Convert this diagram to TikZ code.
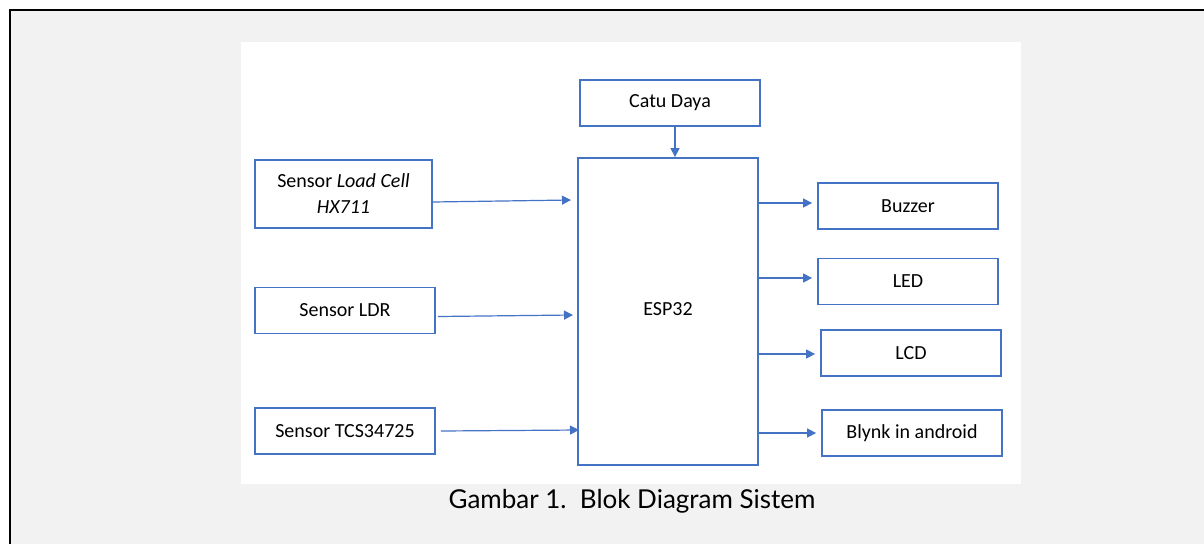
\documentclass[tikz,border=0pt]{standalone}
\usepackage{fontspec}
\setmainfont{Carlito}
\newfontfamily\capfont{Lato}
\usetikzlibrary{arrows.meta, positioning}
\definecolor{boxblue}{HTML}{4472C4}
\definecolor{pagegray}{HTML}{F2F2F2}

\begin{document}
\begin{tikzpicture}[x=1pt, y=-1pt, font=\fontsize{20}{26}\selectfont,
  block/.style={draw=boxblue, line width=1.8pt, fill=white, minimum width=180pt,
    minimum height=46pt, inner sep=0pt, align=center},
  arr/.style={draw=boxblue, line width=1.2pt, -{Triangle[length=9pt,width=9pt]}}]
  \useasboundingbox (0,0) rectangle (1204,544);
  % page background
  \fill[pagegray] (10,10) rectangle (1204,544);
  \fill[white] (241,42) rectangle (1021,484);
  \draw[line width=2.2pt] (10,544) -- (10,10) -- (1204,10);

  % blocks
  \node[block]                    (catu)     at (670,103)   {Catu Daya};
  \node[block, minimum height=307pt] (esp)   at (668,311.5) {\raisebox{5pt}{ESP32}};
  \node[block, minimum width=177pt, minimum height=68pt]
                                  (loadcell) at (343.5,194) {Sensor \textit{Load Cell}\\\textit{HX711}};
  \node[block]                    (ldr)      at (345,310.5) {Sensor LDR};
  \node[block]                    (tcs)      at (345,431)   {Sensor TCS34725};
  \node[block]                    (buzzer)   at (908,206)   {Buzzer};
  \node[block]                    (led)      at (908,281.5) {LED};
  \node[block]                    (lcd)      at (911,353)   {LCD};
  \node[block]                    (blynk)    at (912,433)   {Blynk in android};

  \node[font=\capfont\fontsize{26}{30}\selectfont] (caption) at (632,501)
    {Gambar 1.\ \ Blok Diagram Sistem};

  % inputs
  \coordinate (in1) at (571,200);
  \coordinate (in2) at (573,315);
  \coordinate (in3) at (579,430);
  \draw[arr] ([yshift=-8pt]loadcell.east) -- (in1);
  \draw[arr] ([xshift=2pt,yshift=-6pt]ldr.east) -- (in2);
  \draw[arr] ([xshift=5pt]tcs.east) -- (in3);
  \draw[arr] ([xshift=5pt]catu.south) -- ([xshift=5pt]catu.south |- esp.north);

  % outputs
  \foreach \dst/\dy in {buzzer/3, led/3.5, lcd/-1, blynk/0}{
    \path ([yshift=\dy pt]\dst.west) coordinate (t);
    \draw[arr, shorten >=5pt] (esp.east |- t) -- (t);
  }
\end{tikzpicture}
\end{document}
